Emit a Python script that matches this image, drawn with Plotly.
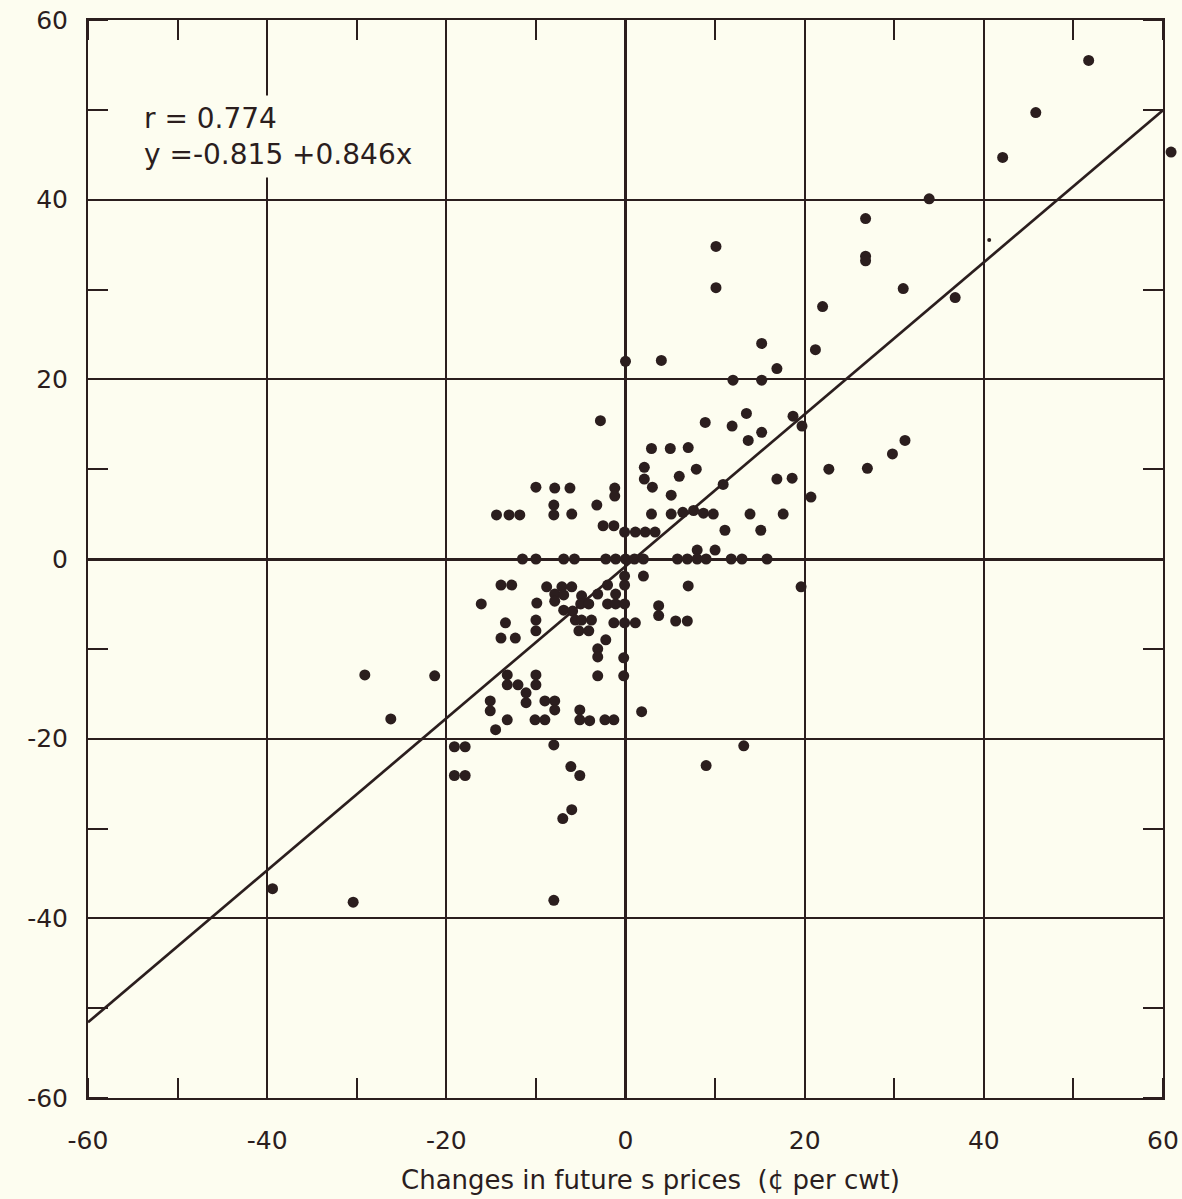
import plotly.graph_objects as go

# Observed points: changes in futures prices (x) vs. changes in cash prices (y)
x_vals = [
    51.7, 45.8, 42.1, 36.8, 33.9, 26.8, 26.8, 26.8, 31.0,
    10.1, 10.1, 22.0, 15.2, 21.2, 4.0, 0.0, 12.0, 15.2, 16.9,
    -2.8, 8.9, 11.9, 13.5, 13.7, 15.2, 18.7, 19.7, 2.9, 5.0,
    7.0, 2.1, 2.1, 3.0, 6.0, 7.9, -1.2, -1.2, 5.1, 10.9,
    16.9, 18.6, 2.9, 5.1, 6.4, 7.6, 8.7, 9.8, 13.9, 17.6,
    -2.5, -1.3, -0.1, 1.1, 2.2, 3.3, 11.1, 15.1, 8.0, 10.0,
    -11.5, -10.0, -6.9, -5.7, -2.2, -1.1, 0.0, 1.0, 2.0, 5.8,
    6.9, 8.0, 9.0, 11.8, 13.0, 15.8,
    -10.0, -7.9, -6.2, -8.0, -8.0, -6.0, -3.2, -14.4, -13.0, -11.8,
    -0.1, 2.0, -13.9, -12.7, -16.1, -8.8, -7.1, -6.0, -7.9, -7.9,
    -6.9, -4.9, -2.0, -0.1, -3.1, -1.1, -9.9, -5.0, -4.1, -2.0,
    -1.1, -0.1, -6.9, -5.9, -13.4, -10.0, -10.0, -5.6, -4.9, -3.8,
    -5.2, -4.1, -1.3, -0.1, 1.1, -13.9, -12.3, -2.2, -3.1, -3.1,
    -0.2, -3.1, -0.2, -13.2, -13.2, -12.0, -10.0, -10.0, -11.1, -11.1,
    -15.1, -15.1, -9.0, -7.9, -7.9, -13.2, -10.1, -9.0, -5.1, -5.1,
    -4.0, -2.3, -1.3, 1.8, -14.5, -19.1, -17.9, -19.1, -17.9, -8.0,
    -6.1, -5.1, -6.0, -7.0, -8.0, -39.4, -30.4, -29.1, -21.3, -26.2,
    7.0, 19.6, 3.7, 3.7, 5.6, 6.9, 13.2, 9.0, 22.7, 27.0,
    29.8, 31.2, 20.7,
]
y_vals = [
    55.5, 49.7, 44.7, 29.1, 40.1, 37.9, 33.7, 33.2, 30.1,
    34.8, 30.2, 28.1, 24.0, 23.3, 22.1, 22.0, 19.9, 19.9, 21.2,
    15.4, 15.2, 14.8, 16.2, 13.2, 14.1, 15.9, 14.8, 12.3, 12.3,
    12.4, 10.2, 8.9, 8.0, 9.2, 10.0, 7.9, 7.0, 7.1, 8.3,
    8.9, 9.0, 5.0, 5.0, 5.2, 5.4, 5.1, 5.0, 5.0, 5.0,
    3.7, 3.7, 3.0, 3.0, 3.0, 3.0, 3.2, 3.2, 1.0, 1.0,
    0.0, 0.0, 0.0, 0.0, 0.0, 0.0, 0.0, 0.0, 0.0, 0.0,
    0.0, 0.0, 0.0, 0.0, 0.0, 0.0,
    8.0, 7.9, 7.9, 6.0, 4.9, 5.0, 6.0, 4.9, 4.9, 4.9,
    -1.9, -1.9, -2.9, -2.9, -5.0, -3.1, -3.1, -3.1, -3.9, -4.7,
    -4.0, -4.1, -2.9, -2.9, -3.9, -3.9, -4.9, -5.0, -5.0, -5.0,
    -5.0, -5.0, -5.7, -5.8, -7.1, -6.8, -8.0, -6.8, -6.8, -6.8,
    -8.0, -8.0, -7.1, -7.1, -7.1, -8.8, -8.8, -9.0, -10.0, -10.9,
    -11.0, -13.0, -13.0, -12.9, -14.0, -14.0, -12.9, -14.0, -14.9, -16.0,
    -15.8, -16.9, -15.8, -15.8, -16.8, -17.9, -17.9, -17.9, -16.8, -17.9,
    -18.0, -17.9, -17.9, -17.0, -19.0, -20.9, -20.9, -24.1, -24.1, -20.7,
    -23.1, -24.1, -27.9, -28.9, -38.0, -36.7, -38.2, -12.9, -13.0, -17.8,
    -3.0, -3.1, -5.2, -6.3, -6.9, -6.9, -20.8, -23.0, 10.0, 10.1,
    11.7, 13.2, 6.9,
]
# point plotted just beyond the right border of the frame
x_outside = [60.9]
y_outside = [45.3]
# one faint, small dot
x_small = [40.6]
y_small = [35.5]

# regression
intercept = -0.815
slope = 0.846
r_value = 0.774
line_x = [-60, 60]
line_y = [intercept + slope * v for v in line_x]

x_range = [-60, 60]
y_range = [-60, 60]
tick_vals = [-60, -40, -20, 0, 20, 40, 60]
tick_text = ["-60", "-40", "-20", "0", "20", "40", "60"]
x_title = "Changes in future s prices  (\u00a2 per cwt)"

ink = "#2b1e1e"
paper = "#fdfdf0"
clear = "rgba(0,0,0,0)"
font_family = "'DejaVu Sans', sans-serif"

# main frame occupies this share of the width; a hidden twin axis spans the full width
frame_share = 1075 / 1090
x2_range = [x_range[0], x_range[0] + (x_range[1] - x_range[0]) / frame_share]

fig = go.Figure()
fig.add_trace(go.Scatter(
    x=line_x, y=line_y, mode="lines",
    line=dict(color=ink, width=2.7), hoverinfo="skip", showlegend=False,
))
fig.add_trace(go.Scatter(
    x=x_vals, y=y_vals, mode="markers",
    marker=dict(color=ink, size=11, line=dict(width=0)),
    cliponaxis=False, showlegend=False,
))
fig.add_trace(go.Scatter(
    x=x_small, y=y_small, mode="markers",
    marker=dict(color=ink, size=4, line=dict(width=0)),
    cliponaxis=False, showlegend=False,
))
fig.add_trace(go.Scatter(
    x=x_outside, y=y_outside, mode="markers", xaxis="x2", yaxis="y2",
    marker=dict(color=ink, size=11, line=dict(width=0)),
    cliponaxis=False, showlegend=False,
))

axis_common = dict(
    tickmode="array",
    tickvals=tick_vals,
    ticktext=tick_text,
    showgrid=True,
    gridcolor=ink,
    gridwidth=1.5,
    zeroline=True,
    zerolinecolor=ink,
    zerolinewidth=3,
    showline=True,
    linecolor=ink,
    linewidth=2,
    mirror="ticks",
    ticks="",
    minor=dict(dtick=10, tick0=0, ticks="inside", ticklen=20, tickcolor=ink, tickwidth=1.5, showgrid=False),
    tickfont=dict(family=font_family, size=25, color=ink),
    ticklabeloverflow="allow",
    fixedrange=True,
    automargin=False,
)

fig.update_layout(
    width=1182,
    height=1199,
    margin=dict(l=88, r=4, t=20, b=101),
    paper_bgcolor=paper,
    plot_bgcolor=clear,
    xaxis=dict(**axis_common, range=x_range, domain=[0, frame_share], ticklabelstandoff=19),
    yaxis=dict(**axis_common, range=y_range, ticklabelstandoff=13),
    xaxis2=dict(range=x2_range, domain=[0, 1], anchor="y2", visible=False, fixedrange=True),
    yaxis2=dict(range=y_range, domain=[0, 1], anchor="x2", visible=False, fixedrange=True),
    annotations=[
        dict(
            x=-54.5, y=47.0, xref="x", yref="y", xanchor="left", yanchor="middle",
            text=f"r = {r_value}<br>y =-0.815 +{slope}x",
            showarrow=False, align="left", bgcolor=paper, borderpad=6,
            font=dict(family=font_family, size=28, color=ink),
        ),
        dict(
            x=0.5165, y=-0.076, xref="paper", yref="paper", xanchor="center", yanchor="middle",
            text=x_title, showarrow=False,
            font=dict(family=font_family, size=26, color=ink),
        ),
    ],
)

fig.write_html(
    "out.html",
    config={"displayModeBar": False},
    post_script="document.body.style.margin='0';document.body.style.overflow='hidden';",
)
